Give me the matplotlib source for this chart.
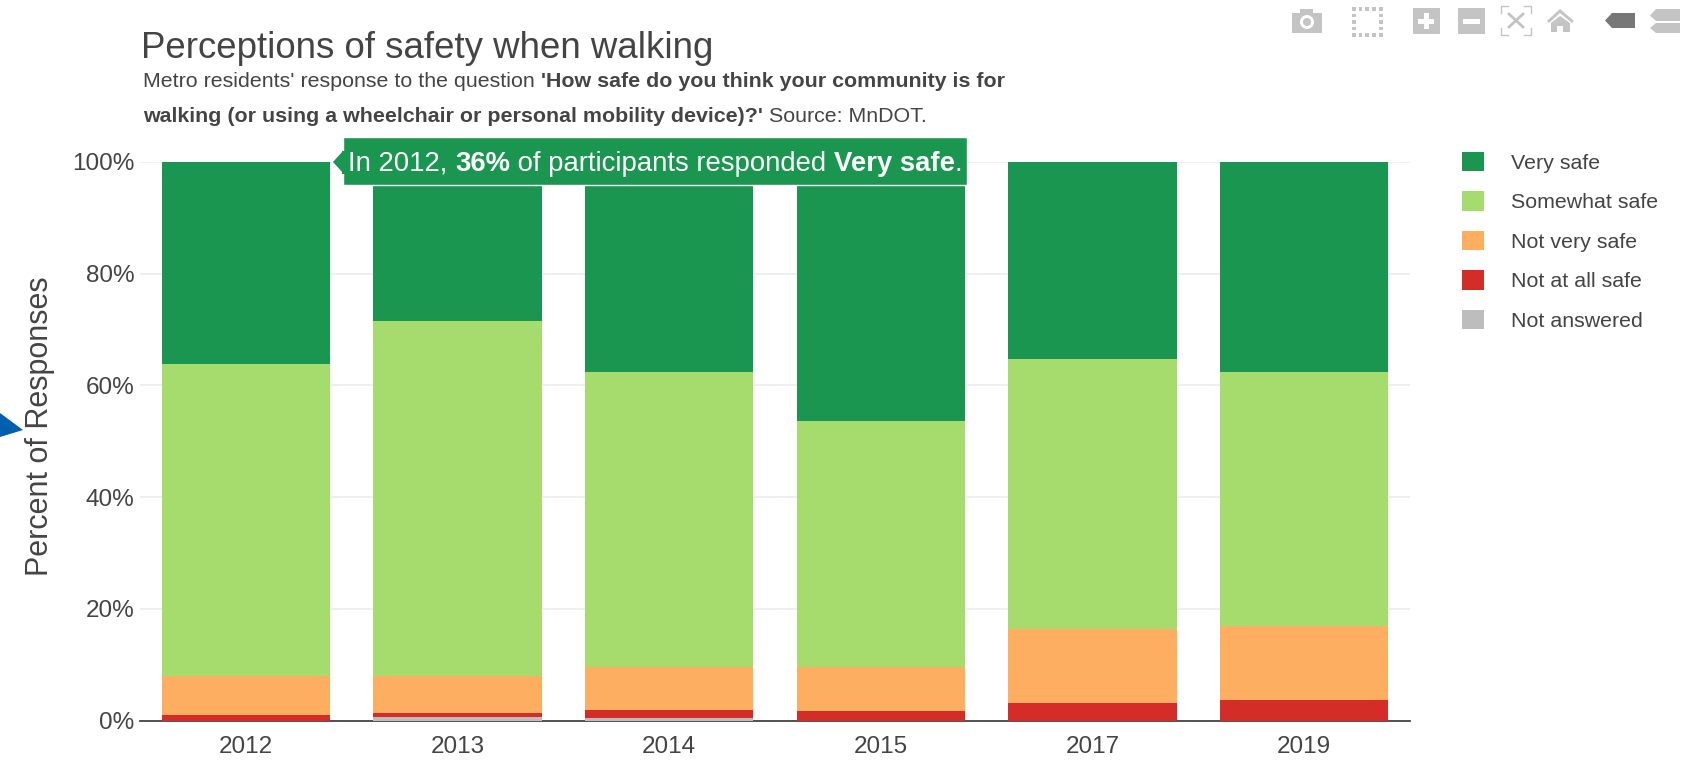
import numpy as np
import matplotlib
matplotlib.use('Agg')
import matplotlib.pyplot as plt
from matplotlib.patches import Rectangle, Polygon, Circle

plt.rcParams['font.family'] = ['Liberation Sans', 'DejaVu Sans']

years = ['2012', '2013', '2014', '2015', '2017', '2019']
not_answered = [0.0, 0.6, 0.5, 0.0, 0.0, 0.0]
not_at_all_safe = [1.0, 0.8, 1.4, 1.7, 3.2, 3.6]
not_very_safe = [6.9, 6.6, 7.7, 7.9, 13.2, 13.3]
somewhat_safe = [55.9, 63.5, 52.8, 44.1, 48.4, 45.5]
very_safe = [36.2, 28.5, 37.6, 46.3, 35.2, 37.6]
y_ticks = [0, 20, 40, 60, 80, 100]

series = [('Not answered', not_answered, '#bdbdbd'),
          ('Not at all safe', not_at_all_safe, '#d42d27'),
          ('Not very safe', not_very_safe, '#fdae61'),
          ('Somewhat safe', somewhat_safe, '#a6dc6e'),
          ('Very safe', very_safe, '#1b9650')]

W, H = 1691, 761
TEXT = '#444444'
fig = plt.figure(figsize=(W / 100, H / 100), dpi=100)
ax = fig.add_axes([140 / W, 1 - 720.5 / H, 1270 / W, 558.5 / H])

# overlay in pixel coordinates for the title, tooltip and plotly toolbar
over = fig.add_axes([0, 0, 1, 1], zorder=5)
over.set_xlim(0, W)
over.set_ylim(H, 0)
over.axis('off')
over.patch.set_alpha(0)

x = np.arange(len(years))
bottom = np.zeros(len(years))
handles = {}
for name, vals, col in series:
    handles[name] = ax.bar(x, vals, width=0.795, bottom=bottom, color=col, label=name,
                           edgecolor='none', zorder=3)
    bottom += np.array(vals)

ax.set_xlim(-0.5, 5.5)
ax.set_ylim(0, 100)
ax.set_xticks(x, years)
ax.set_yticks(y_ticks, [f'{t}%' for t in y_ticks])
ax.tick_params(axis='both', length=0, labelsize=17.5, labelcolor=TEXT)
ax.tick_params(axis='x', pad=11)
ax.tick_params(axis='y', pad=4)
ax.grid(axis='y', color='#eeeeee', lw=1.3, zorder=0)
for s in ['top', 'right', 'left']:
    ax.spines[s].set_visible(False)
ax.spines['bottom'].set_color(TEXT)
ax.spines['bottom'].set_linewidth(1.3)
ax.spines['bottom'].set_zorder(2)
ax.set_ylabel('Percent of Responses', fontsize=22, color=TEXT, labelpad=0)
ax.yaxis.set_label_coords(-0.067, 0.527)

order = ['Very safe', 'Somewhat safe', 'Not very safe', 'Not at all safe', 'Not answered']
fig.legend([handles[n][0] for n in order], order, loc='upper left',
           bbox_to_anchor=(1451 / W, 1 - 141 / H), frameon=False, fontsize=15.4,
           labelcolor=TEXT, handlelength=1.03, handleheight=1.03, handletextpad=1.26,
           labelspacing=0.86, borderpad=0.5, borderaxespad=0)


def runs(xpos, ypos, parts, size, color):
    # lay out mixed regular / bold text from left to right
    r = fig.canvas.get_renderer()
    for txt, weight in parts:
        t = over.text(xpos, ypos, txt, fontsize=size, color=color, fontweight=weight,
                      va='baseline', ha='left')
        xpos += t.get_window_extent(r).width


over.text(141, 58, 'Perceptions of safety when walking', fontsize=26.4, color=TEXT, va='baseline')
runs(143, 87, [("Metro residents' response to the question ", 'normal'),
               ("'How safe do you think your community is for", 'bold')], 15.4, TEXT)
runs(143, 122, [("walking (or using a wheelchair or personal mobility device)?'", 'bold'),
                (' Source: MnDOT.', 'normal')], 15.4, TEXT)

# hover tooltip
TIP = '#1b9650'
over.add_patch(Rectangle((343, 137), 624, 48, fc=TIP, ec='white', lw=1))
over.add_patch(Polygon([(343, 150), (332, 162), (343, 174)], closed=True, fc=TIP, ec='white', lw=1))
over.add_patch(Rectangle((342, 150.5), 3, 23, fc=TIP, ec='none'))
runs(348, 171, [('In 2012, ', 'normal'), ('36%', 'bold'), (' of participants responded ', 'normal'),
                ('Very safe', 'bold'), ('.', 'normal')], 19.8, 'white')

# blue marker at the left edge
over.add_patch(Polygon([(0, 413), (23, 430), (0, 437)], closed=True, fc='#0060b0', ec='none'))

# toolbar icons
G = '#c4c4c4'
over.add_patch(Rectangle((1292, 13), 30, 20, fc=G, ec='none'))
over.add_patch(Rectangle((1300, 9), 13, 5, fc=G, ec='none'))
over.add_patch(Circle((1307, 22), 7, fc='white', ec='none'))
over.add_patch(Circle((1307, 22), 4, fc=G, ec='none'))
for i in range(5):
    for px, py in [(1352 + i * 6.7, 7), (1352 + i * 6.7, 33), (1352, 7 + i * 6.5), (1379, 7 + i * 6.5)]:
        over.add_patch(Rectangle((px, py), 3.5, 3.5, fc=G, ec='none'))
over.add_patch(Rectangle((1413, 8), 27, 26, fc=G, ec='none'))
over.add_patch(Rectangle((1423.5, 13), 5, 16, fc='white', ec='none'))
over.add_patch(Rectangle((1418, 18.5), 16, 5, fc='white', ec='none'))
over.add_patch(Rectangle((1458, 8), 27, 26, fc=G, ec='none'))
over.add_patch(Rectangle((1463, 18.5), 17, 5, fc='white', ec='none'))
for cx, cy, dx, dy in [(1501, 6, 1, 1), (1531, 6, -1, 1), (1501, 35, 1, -1), (1531, 35, -1, -1)]:
    over.plot([cx, cx, cx + 7 * dx], [cy + 7 * dy, cy, cy], color=G, lw=1)
over.plot([1509, 1523], [14, 27], color=G, lw=2)
over.plot([1509, 1523], [27, 14], color=G, lw=2)
over.add_patch(Polygon([(1547, 21), (1560, 9), (1574, 21), (1572, 23), (1560, 13), (1549, 23)], closed=True,
                       fc=G, ec='none'))
over.add_patch(Polygon([(1551, 23), (1560, 16), (1570, 23), (1570, 32), (1563, 32), (1563, 26), (1557, 26),
                        (1557, 32), (1551, 32)], closed=True, fc=G, ec='none'))
over.add_patch(Polygon([(1605, 20.5), (1612, 13), (1635, 13), (1635, 28), (1612, 28)], closed=True,
                       fc='#777777', ec='none'))
over.add_patch(Polygon([(1650, 15.5), (1656, 9), (1680, 9), (1680, 21), (1656, 21)], closed=True, fc=G, ec='none'))
over.add_patch(Polygon([(1650, 28), (1656, 23), (1680, 23), (1680, 33), (1656, 33)], closed=True, fc=G, ec='none'))

fig.savefig('out.png', dpi=100)
